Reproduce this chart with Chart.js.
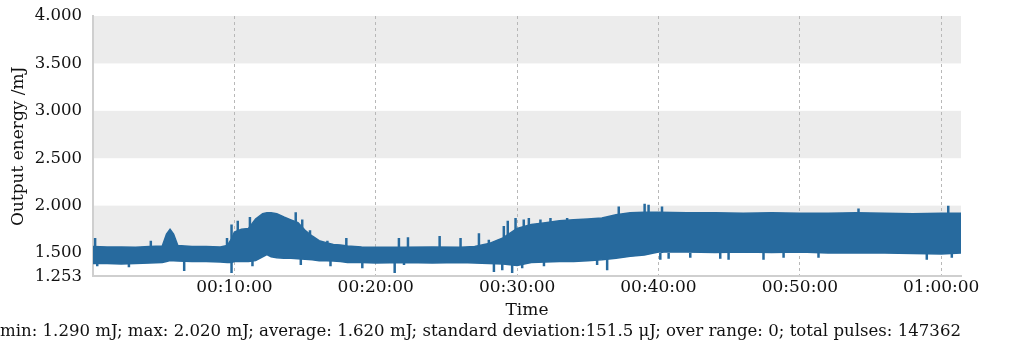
<!DOCTYPE html>
<html>
<head>
<meta charset="utf-8">
<script src="https://cdn.jsdelivr.net/npm/chart.js@4"></script>
<style>
  html, body { margin: 0; padding: 0; background: #fff; }
  #wrap { width: 1034px; height: 347px; }
</style>
</head>
<body>
<div id="wrap"><canvas id="energyChart"></canvas></div>
<script>
// time in minutes, energy in mJ
var envTime = [0, 1, 2, 3, 4, 4.9, 5.2, 5.45, 5.7, 6, 7, 8, 9, 9.5, 9.8, 10, 10.5, 11, 11.5, 12, 12.3, 12.6, 13, 13.5, 14, 14.5, 15, 15.5, 16, 16.5, 17, 17.5, 18, 19, 20, 22, 24, 26, 27, 28, 29, 30, 31, 32, 33, 34, 35, 36, 37, 38, 39, 40, 42, 44, 46, 48, 50, 52, 54, 56, 58, 60, 61.4];
var envHigh = [1.57, 1.565, 1.565, 1.56, 1.57, 1.575, 1.70, 1.75, 1.70, 1.58, 1.57, 1.57, 1.565, 1.58, 1.65, 1.72, 1.75, 1.76, 1.86, 1.915, 1.925, 1.925, 1.915, 1.88, 1.85, 1.82, 1.74, 1.68, 1.63, 1.61, 1.59, 1.585, 1.575, 1.565, 1.56, 1.56, 1.565, 1.56, 1.57, 1.60, 1.66, 1.76, 1.80, 1.82, 1.84, 1.85, 1.86, 1.87, 1.905, 1.925, 1.93, 1.93, 1.925, 1.925, 1.92, 1.925, 1.92, 1.92, 1.925, 1.92, 1.915, 1.92, 1.92];
var envLow = [1.39, 1.39, 1.385, 1.39, 1.395, 1.40, 1.41, 1.42, 1.42, 1.415, 1.41, 1.41, 1.405, 1.40, 1.40, 1.41, 1.41, 1.41, 1.42, 1.46, 1.485, 1.46, 1.45, 1.445, 1.445, 1.44, 1.435, 1.43, 1.42, 1.42, 1.415, 1.41, 1.40, 1.40, 1.395, 1.40, 1.395, 1.40, 1.395, 1.39, 1.385, 1.37, 1.40, 1.405, 1.41, 1.41, 1.42, 1.43, 1.445, 1.465, 1.48, 1.51, 1.51, 1.505, 1.51, 1.505, 1.51, 1.50, 1.50, 1.50, 1.495, 1.49, 1.50];

var upTime = [0.15, 4.09, 9.48, 9.8, 10.24, 11.1, 14.34, 14.8, 15.35, 16.58, 17.92, 21.64, 22.28, 24.52, 26.0, 27.3, 28.0, 28.7, 29.06, 29.34, 29.89, 30.47, 30.83, 31.65, 32.36, 33.54, 37.19, 39.02, 39.3, 40.25, 54.15, 60.5];
var upValue = [1.66, 1.63, 1.66, 1.80, 1.84, 1.88, 1.93, 1.855, 1.74, 1.63, 1.66, 1.66, 1.667, 1.68, 1.66, 1.71, 1.64, 1.64, 1.785, 1.84, 1.87, 1.855, 1.87, 1.855, 1.87, 1.87, 1.99, 2.02, 2.01, 1.99, 1.97, 2.00];
var downTime = [0.3, 2.54, 6.45, 9.8, 11.28, 14.7, 16.8, 19.05, 21.34, 22.0, 28.36, 28.95, 29.65, 30.36, 31.9, 35.66, 36.37, 40.13, 40.72, 42.25, 44.37, 44.96, 47.43, 48.85, 51.32, 58.98, 60.75];
var downValue = [1.36, 1.35, 1.31, 1.29, 1.36, 1.375, 1.36, 1.34, 1.29, 1.375, 1.30, 1.32, 1.29, 1.34, 1.36, 1.375, 1.32, 1.43, 1.44, 1.45, 1.44, 1.43, 1.43, 1.45, 1.45, 1.43, 1.45];
var spikeBase = 1.5;

var yTicks = [1.253, 1.5, 2.0, 2.5, 3.0, 3.5, 4.0];
var xTicks = [10, 20, 30, 40, 50, 60];
var shadedBands = [[3.5, 4.0], [2.5, 3.0], [1.5, 2.0]];
var caption = 'min: 1.290 mJ; max: 2.020 mJ; average: 1.620 mJ; standard deviation:151.5 \u03bcJ; over range: 0; total pulses: 147362';

var blue = '#276a9e';
var serif = 'DejaVu Serif';

function pad2(n) { return (n < 10 ? '0' : '') + n; }
function hms(min) {
    var s = Math.round(min * 60);
    return pad2(Math.floor(s / 3600)) + ':' + pad2(Math.floor(s / 60) % 60) + ':' + pad2(s % 60);
}

var highPts = envTime.map(function (t, i) { return {x: t, y: envHigh[i]}; });
var lowPts = envTime.map(function (t, i) { return {x: t, y: envLow[i]}; });
var spikePts = [];
upTime.concat(downTime).forEach(function (t, i) {
    var v = i < upTime.length ? upValue[i] : downValue[i - upTime.length];
    spikePts.push({x: t, y: spikeBase}, {x: t, y: v}, {x: t, y: null});
});

var bands = {
    id: 'bands',
    beforeDraw: function (chart) {
        var ctx = chart.ctx, a = chart.chartArea, y = chart.scales.y;
        ctx.save();
        ctx.fillStyle = '#ececec';
        shadedBands.forEach(function (b) {
            var top = y.getPixelForValue(b[1]), bot = y.getPixelForValue(b[0]);
            ctx.fillRect(a.left, top, a.right - a.left, bot - top);
        });
        ctx.restore();
    }
};

new Chart(document.getElementById('energyChart').getContext('2d'), {
    type: 'line',
    data: {
        datasets: [{
            data: highPts,
            borderColor: blue,
            backgroundColor: blue,
            borderWidth: 1.5,
            fill: '+1',
            pointRadius: 0,
            tension: 0
        }, {
            data: lowPts,
            borderColor: blue,
            borderWidth: 1.5,
            fill: false,
            pointRadius: 0,
            tension: 0
        }, {
            data: spikePts,
            borderColor: blue,
            borderWidth: 2.5,
            fill: false,
            pointRadius: 0,
            spanGaps: false
        }]
    },
    options: {
        responsive: true,
        maintainAspectRatio: false,
        animation: false,
        layout: { padding: { top: 16, right: 73, left: 0, bottom: 0 } },
        plugins: {
            legend: { display: false },
            tooltip: { enabled: false },
            title: {
                display: true,
                position: 'bottom',
                text: caption,
                color: '#111',
                font: { family: serif, size: 17.1, weight: 'normal' },
                padding: { top: 0, bottom: 5 }
            }
        },
        scales: {
            x: {
                type: 'linear',
                min: 0,
                max: 61.4,
                afterBuildTicks: function (scale) {
                    scale.ticks = xTicks.map(function (v) { return {value: v}; });
                },
                afterFit: function (scale) { scale.height = 45; },
                ticks: {
                    color: '#111',
                    font: { family: serif, size: 17 },
                    padding: 1,
                    maxRotation: 0,
                    callback: function (v) { return hms(v); }
                },
                grid: {
                    color: '#b8b8b8',
                    drawTicks: false
                },
                border: { color: '#cfcfcf', width: 2, dash: [3, 3] },
                title: {
                    display: true,
                    text: 'Time',
                    color: '#111',
                    font: { family: serif, size: 17 },
                    padding: { top: 0, bottom: 1 }
                }
            },
            y: {
                min: 1.253,
                max: 4.0,
                afterBuildTicks: function (scale) {
                    scale.ticks = yTicks.map(function (v) { return {value: v}; });
                },
                afterFit: function (scale) { scale.width = 93; },
                ticks: {
                    color: '#111',
                    font: { family: serif, size: 16.5 },
                    padding: 3,
                    callback: function (v) { return v.toFixed(3); }
                },
                grid: { display: false },
                border: { color: '#cfcfcf', width: 2 },
                title: {
                    display: true,
                    text: 'Output energy /mJ',
                    color: '#111',
                    font: { family: serif, size: 17 },
                    padding: { top: 8, bottom: 0 }
                }
            }
        }
    },
    plugins: [bands]
});
</script>
</body>
</html>
